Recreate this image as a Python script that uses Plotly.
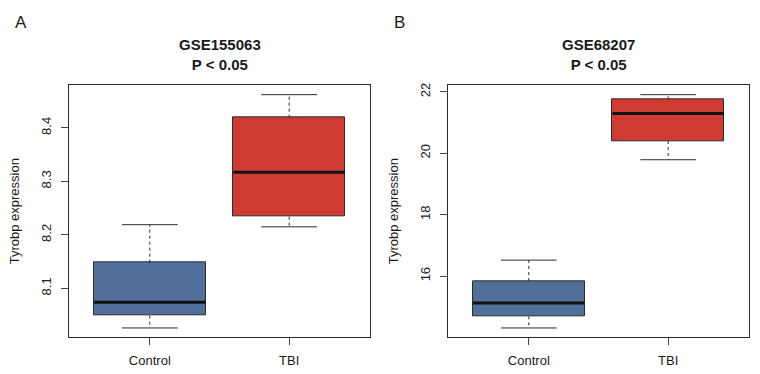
import plotly.graph_objects as go

groups = ["Control", "TBI"]

# GSE155063 box statistics (Control, TBI)
a_lower = [8.026, 8.215]
a_q1 = [8.049, 8.234]
a_median = [8.074, 8.317]
a_q3 = [8.148, 8.419]
a_upper = [8.219, 8.462]
a_ticks = [8.1, 8.2, 8.3, 8.4]

# GSE68207 box statistics (Control, TBI)
b_lower = [14.31, 19.79]
b_q1 = [14.69, 20.40]
b_median = [15.12, 21.30]
b_q3 = [15.84, 21.76]
b_upper = [16.52, 21.91]
b_ticks = [16, 18, 20, 22]

titles = ["GSE155063", "GSE68207"]
panel_labels = ["A", "B"]

BLUE = "#50709B"
RED = "#CF3B30"
INK = "#1a1a1a"
EDGE = "#2b2b2b"
FONT = "Arial, Liberation Sans, sans-serif"
W, H = 760, 374

# frame placement in pixels (left, right) and shared top/bottom
frames = [(69, 370), (448, 749)]
top_px, bottom_px = 83, 337

fig = go.Figure()


def add_panel(idx, lower, q1, med, q3, upper):
    xa = "x" if idx == 0 else "x2"
    ya = "y" if idx == 0 else "y2"
    pos = [i + 1 for i in range(len(groups))]
    fig.add_trace(go.Bar(
        x=pos, y=[b - a for a, b in zip(q1, q3)], base=q1, width=0.8,
        marker=dict(color=[BLUE, RED], line=dict(color=EDGE, width=1)),
        xaxis=xa, yaxis=ya, hoverinfo="skip",
    ))
    wx, wy, cx, cy, mx, my = [], [], [], [], [], []
    for p, lo, a, m, b, hi in zip(pos, lower, q1, med, q3, upper):
        wx += [p, p, None, p, p, None]
        wy += [b, hi, None, a, lo, None]
        cx += [p - 0.2, p + 0.2, None, p - 0.2, p + 0.2, None]
        cy += [hi, hi, None, lo, lo, None]
        mx += [p - 0.4, p + 0.4, None]
        my += [m, m, None]
    fig.add_trace(go.Scatter(x=wx, y=wy, mode="lines", xaxis=xa, yaxis=ya,
                             line=dict(color=EDGE, width=1, dash="3px,3px"), hoverinfo="skip"))
    fig.add_trace(go.Scatter(x=cx, y=cy, mode="lines", xaxis=xa, yaxis=ya,
                             line=dict(color=EDGE, width=1), hoverinfo="skip"))
    fig.add_trace(go.Scatter(x=mx, y=my, mode="lines", xaxis=xa, yaxis=ya,
                             line=dict(color="#111111", width=3), hoverinfo="skip"))
    lo_all, hi_all = min(lower), max(upper)
    pad = 0.04 * (hi_all - lo_all)
    return [lo_all - pad, hi_all + pad]


ranges = [
    add_panel(0, a_lower, a_q1, a_median, a_q3, a_upper),
    add_panel(1, b_lower, b_q1, b_median, b_q3, b_upper),
]
tick_sets = [a_ticks, b_ticks]

axis_common = dict(
    showline=True, linecolor=EDGE, linewidth=1, mirror=True,
    ticks="outside", ticklen=7, tickcolor="#444444", tickwidth=1,
    showgrid=False, zeroline=False,
    tickfont=dict(family=FONT, size=13, color=INK),
)

layout = dict(
    width=W, height=H,
    margin=dict(l=0, r=0, t=0, b=0),
    paper_bgcolor="white", plot_bgcolor="white",
    showlegend=False, bargap=0,
    font=dict(family=FONT, color=INK),
)
y_dom = [1 - bottom_px / H, 1 - top_px / H]
annotations = []
for i, (l, r) in enumerate(frames):
    suffix = "" if i == 0 else "2"
    layout["xaxis" + suffix] = dict(
        axis_common, domain=[l / W, r / W], range=[0.42, 2.58],
        tickvals=[1, 2], ticktext=groups, anchor="y" + suffix, ticklabelstandoff=4,
    )
    layout["yaxis" + suffix] = dict(
        axis_common, domain=y_dom, range=ranges[i], tickvals=tick_sets[i],
        tickangle=-90, anchor="x" + suffix, ticklabelstandoff=5,
    )
    mid = (l + r) / 2
    annotations.append(dict(
        text=f"<b>{titles[i]}</b><br><b>P &lt; 0.05</b>", x=mid / W, y=1 - 52 / H,
        xref="paper", yref="paper", showarrow=False, xanchor="center", yanchor="middle",
        font=dict(family=FONT, size=15, color=INK),
    ))
    annotations.append(dict(
        text="Tyrobp expression", textangle=-90, x=(l - 55) / W, y=1 - 210 / H,
        xref="paper", yref="paper", showarrow=False, xanchor="center", yanchor="middle",
        font=dict(family=FONT, size=13, color=INK),
    ))
    annotations.append(dict(
        text=panel_labels[i], x=(l - 56) / W, y=1 - 20 / H,
        xref="paper", yref="paper", showarrow=False, xanchor="left", yanchor="middle",
        font=dict(family=FONT, size=17, color=INK),
    ))
layout["annotations"] = annotations
fig.update_layout(**layout)

fig.write_html(
    "out.html",
    config={"displayModeBar": False},
    post_script="document.body.style.margin='0';",
)
